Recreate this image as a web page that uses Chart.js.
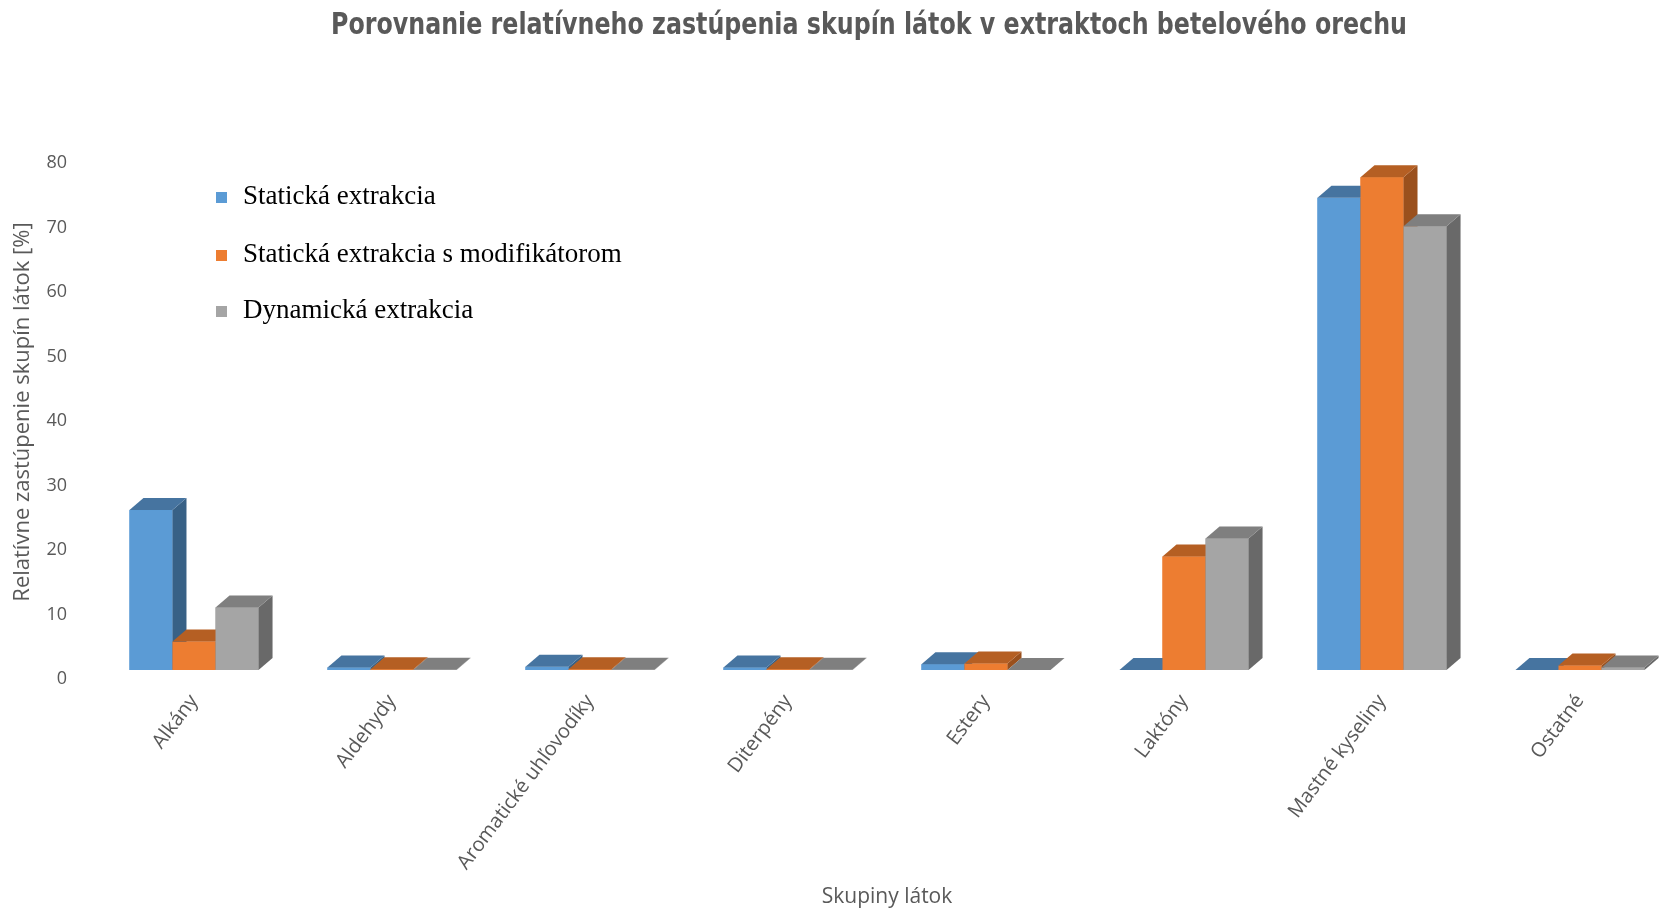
<!DOCTYPE html>
<html><head><meta charset="utf-8">
<script src="https://cdn.jsdelivr.net/npm/chart.js@4.4.0/dist/chart.umd.min.js"></script>
<style>html,body{margin:0;padding:0;background:#fff}#wrap{width:1659px;height:913px}</style>
</head><body><div id="wrap"><canvas id="c" width="1659" height="913"></canvas></div>
<script>
const chartTitle = 'Porovnanie relatívneho zastúpenia skupín látok v extraktoch betelového orechu';
const categories = ["Alkány","Aldehydy","Aromatické uhľovodíky","Diterpény","Estery","Laktóny","Mastné kyseliny","Ostatné"];
const seriesNames = ["Statická extrakcia","Statická extrakcia s modifikátorom","Dynamická extrakcia"];
const staticka = [24.8, 0.4, 0.5, 0.4, 0.9, 0, 73.2, 0];
const statickaMod = [4.4, 0.1, 0.1, 0.1, 1.0, 17.6, 76.4, 0.7];
const dynamicka = [9.7, 0.05, 0.05, 0.05, 0, 20.4, 68.8, 0.4];
const yMin = 0, yMax = 80, yStep = 10;

const frontColors = ['#5B9BD5','#ED7D31','#A5A5A5'];
const topColors = ['#4674A0','#B55F23','#7F7F7F'];
const sideColors = ['#386186','#9A501D','#696969'];
const DX = 14, DY = 12;

const bars3d = {
  id: 'bars3d',
  afterDatasetsDraw(chart) {
    const ctx = chart.ctx;
    const n = chart.data.labels.length;
    ctx.save();
    for (let i = 0; i < n; i++) {
      chart.data.datasets.forEach((ds, d) => {
        const el = chart.getDatasetMeta(d).data[i];
        if (!el) return;
        const p = el.getProps(['x','y','base','width'], true);
        const x0 = p.x - p.width/2, x1 = p.x + p.width/2;
        const y = p.y, b = p.base;
        ctx.fillStyle = frontColors[d];
        ctx.fillRect(x0, y, p.width, b - y);
        ctx.fillStyle = sideColors[d];
        ctx.beginPath();
        ctx.moveTo(x1, y); ctx.lineTo(x1+DX, y-DY); ctx.lineTo(x1+DX, b-DY); ctx.lineTo(x1, b); ctx.closePath();
        ctx.fill();
        ctx.fillStyle = topColors[d];
        ctx.beginPath();
        ctx.moveTo(x0, y); ctx.lineTo(x1, y); ctx.lineTo(x1+DX, y-DY); ctx.lineTo(x0+DX, y-DY); ctx.closePath();
        ctx.fill();
      });
    }
    ctx.restore();
  }
};

const legendAndTitle = {
  id: 'customLegendTitle',
  afterDraw(chart) {
    const ctx = chart.ctx;
    ctx.save();
    ctx.font = '27px "Liberation Serif", "Times New Roman", serif';
    ctx.textBaseline = 'middle';
    ctx.textAlign = 'left';
    const ys = [197, 255, 311];
    chart.data.datasets.forEach((ds, d) => {
      ctx.fillStyle = frontColors[d];
      ctx.fillRect(216, ys[d]-5, 11, 11);
      ctx.fillStyle = '#000';
      ctx.fillText(ds.label, 243, ys[d]);
    });
    ctx.restore();
    ctx.save();
    ctx.font = 'bold 30px "Liberation Sans Narrow", "DejaVu Sans Condensed", sans-serif';
    ctx.fillStyle = '#595959';
    ctx.textAlign = 'center';
    ctx.textBaseline = 'middle';
    ctx.translate(869, 26);
    ctx.scale(0.88, 1);
    ctx.fillText(chartTitle, 0, 0);
    ctx.restore();
  }
};

const datasets = [staticka, statickaMod, dynamicka].map((vals, d) => ({
  label: seriesNames[d],
  data: vals,
  backgroundColor: frontColors[d],
  borderWidth: 0,
  clip: false,
  barPercentage: 1.0,
  categoryPercentage: 0.652
}));

new Chart(document.getElementById('c'), {
  type: 'bar',
  data: { labels: categories, datasets },
  options: {
    responsive: false,
    animation: false,
    devicePixelRatio: 1,
    layout: { padding: { left: 0, right: 79, top: 154, bottom: 0 } },
    plugins: {
      legend: { display: false },
      tooltip: { enabled: false },
      title: { display: false }
    },
    scales: {
      x: {
        offset: false,
        grid: { display: false, drawTicks: false },
        border: { display: false },
        ticks: { autoSkip: false, minRotation: 53, maxRotation: 53, padding: 20, color: '#595959', font: { family: '"Open Sans", sans-serif', size: 20 } },
        title: { display: true, text: 'Skupiny látok', color: '#595959', font: { family: '"Open Sans", sans-serif', size: 21 }, padding: { top: 0, bottom: 3 } },
        afterFit(scale) { scale.height = 243; }
      },
      y: {
        min: yMin, max: yMax,
        grid: { display: false, drawTicks: false },
        border: { display: false },
        ticks: { stepSize: yStep, padding: 127, labelOffset: 9, color: '#595959', font: { family: '"Open Sans", sans-serif', size: 18 } },
        title: { display: true, text: 'Relatívne zastúpenie skupín látok [%]', color: '#595959', font: { family: '"Open Sans", sans-serif', size: 22 }, padding: { top: 10, bottom: 0 } },
        afterFit(scale) { scale.width = 194; }
      }
    }
  },
  plugins: [bars3d, legendAndTitle]
});
</script></body></html>
